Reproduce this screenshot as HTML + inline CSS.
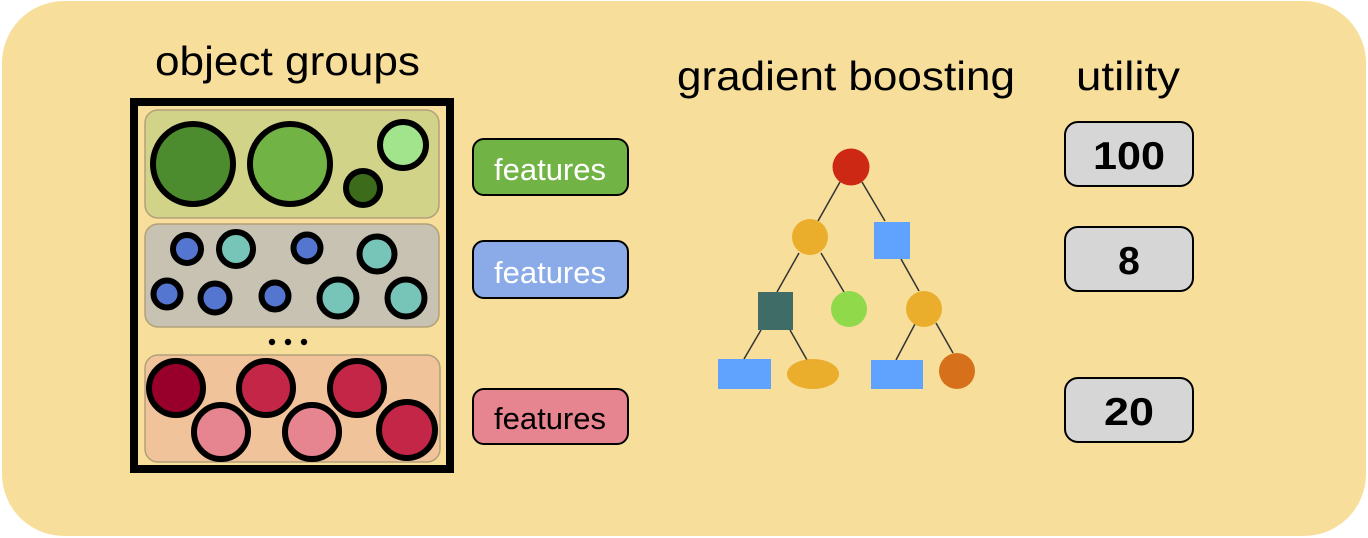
<!DOCTYPE html>
<html><head><meta charset="utf-8"><style>html,body{margin:0;padding:0;background:#fff}svg{display:block}</style></head>
<body>
<svg width="1368" height="538" viewBox="0 0 1368 538" xmlns="http://www.w3.org/2000/svg" font-family="Liberation Sans, sans-serif">
<rect x="2" y="1" width="1364" height="535" rx="62" fill="#f7df9b"/>
<text x="155" y="75" font-size="41" textLength="265" lengthAdjust="spacingAndGlyphs">object groups</text>
<text x="677" y="90" font-size="41" textLength="338" lengthAdjust="spacingAndGlyphs">gradient boosting</text>
<text x="1076" y="90" font-size="41" textLength="104" lengthAdjust="spacingAndGlyphs">utility</text>
<rect x="134" y="102" width="316" height="367" fill="none" stroke="#000" stroke-width="8"/>
<g stroke="#b3a07a" stroke-width="1.5">
<rect x="145" y="110" width="294" height="108" rx="13" fill="#d1d389"/>
<rect x="145" y="224" width="294" height="103" rx="13" fill="#c8c2b2"/>
<rect x="145" y="355" width="295" height="107" rx="13" fill="#f0c39a"/>
</g>
<g stroke="#000" stroke-width="6">
<circle cx="193" cy="164" r="40" fill="#4d8c2e"/>
<circle cx="290" cy="164" r="40" fill="#72b346"/>
<circle cx="403" cy="145" r="23" fill="#a2e48c"/>
<circle cx="363" cy="188" r="17" fill="#3c6c1b"/>
<circle cx="187" cy="249" r="14" fill="#5576d0"/>
<circle cx="236" cy="249" r="17" fill="#77c4b9"/>
<circle cx="307" cy="248" r="13.5" fill="#5576d0"/>
<circle cx="377" cy="254" r="17.5" fill="#77c4b9"/>
<circle cx="167" cy="294" r="13.5" fill="#5576d0"/>
<circle cx="215" cy="298" r="14.5" fill="#5576d0"/>
<circle cx="275" cy="296" r="13.5" fill="#5576d0"/>
<circle cx="338" cy="298" r="18.5" fill="#77c4b9"/>
<circle cx="406" cy="298" r="18.5" fill="#77c4b9"/>
<circle cx="176" cy="388" r="27" fill="#98002b"/>
<circle cx="266" cy="388" r="27" fill="#c42647"/>
<circle cx="357" cy="388" r="27" fill="#c42647"/>
<circle cx="221" cy="432" r="27" fill="#e6848f"/>
<circle cx="312" cy="432" r="27" fill="#e6848f"/>
<circle cx="407" cy="430" r="28" fill="#c42647"/>
</g>
<circle cx="272" cy="342" r="3.2"/><circle cx="288" cy="342" r="3.2"/><circle cx="304" cy="342" r="3.2"/>
<g stroke="#000" stroke-width="2">
<rect x="473" y="139" width="155" height="56" rx="11" fill="#72b346"/>
<rect x="473" y="241" width="155" height="57" rx="11" fill="#8aaae8"/>
<rect x="473" y="389" width="155" height="55" rx="11" fill="#e6848f"/>
<rect x="1065" y="122" width="128" height="64" rx="13" fill="#d6d6d6"/>
<rect x="1065" y="227" width="128" height="64" rx="13" fill="#d6d6d6"/>
<rect x="1065" y="378" width="128" height="64" rx="13" fill="#d6d6d6"/>
</g>
<g font-size="31" text-anchor="middle">
<text x="550" y="180" fill="#fff">features</text>
<text x="550" y="283" fill="#fff">features</text>
<text x="550" y="429" fill="#000">features</text>
</g>
<g font-size="39" font-weight="bold" text-anchor="middle">
<text x="1129" y="169" textLength="72" lengthAdjust="spacingAndGlyphs">100</text>
<text x="1129" y="274">8</text>
<text x="1129" y="425" textLength="50" lengthAdjust="spacingAndGlyphs">20</text>
</g>
<g stroke="#333" stroke-width="1.5">
<line x1="840" y1="182" x2="818" y2="221"/>
<line x1="862" y1="182" x2="885" y2="221"/>
<line x1="799" y1="253" x2="777" y2="292"/>
<line x1="821" y1="253" x2="844" y2="292"/>
<line x1="901" y1="259" x2="919" y2="291"/>
<line x1="761" y1="330" x2="744" y2="359"/>
<line x1="790" y1="330" x2="807" y2="360"/>
<line x1="915" y1="324" x2="896" y2="360"/>
<line x1="936" y1="323" x2="953" y2="353"/>
</g>
<circle cx="851" cy="167" r="18.5" fill="#cc2814"/>
<circle cx="810" cy="237" r="18" fill="#ebad2c"/>
<rect x="874" y="222" width="36" height="37" fill="#5fa3fe"/>
<rect x="758" y="292" width="35" height="38" fill="#3f6c67"/>
<circle cx="849" cy="309" r="18" fill="#8fd94b"/>
<circle cx="924" cy="309" r="18" fill="#ebad2c"/>
<rect x="718" y="359" width="53" height="30" fill="#5fa3fe"/>
<ellipse cx="813" cy="374" rx="26" ry="15" fill="#ebad2c"/>
<rect x="871" y="360" width="52" height="29" fill="#5fa3fe"/>
<circle cx="957" cy="371" r="18" fill="#d7701a"/>
</svg>
</body></html>
